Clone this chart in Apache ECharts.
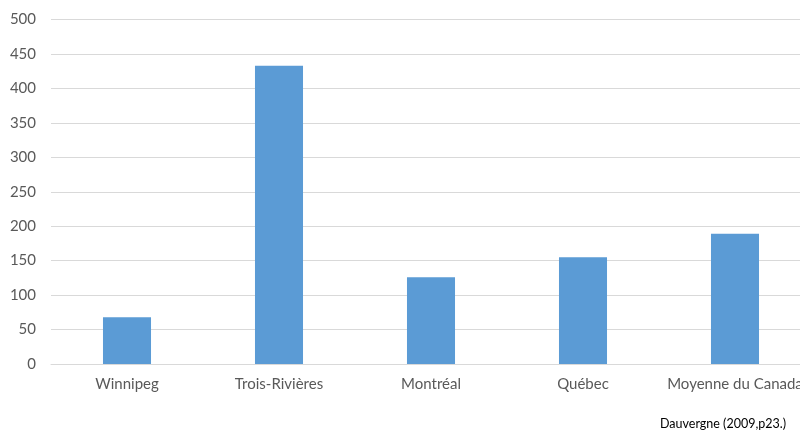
<!DOCTYPE html>
<html><head><meta charset="utf-8">
<script src="https://cdn.jsdelivr.net/npm/echarts@6/dist/echarts.min.js"></script>
<style>html,body{margin:0;padding:0;background:#fff;overflow:hidden;width:800px;height:433px}#c{width:811px;height:433px}</style>
</head><body><div id="c"></div>
<script>
const categories = ['Winnipeg', 'Trois-Rivières', 'Montréal', 'Québec', 'Moyenne du Canada'];
const values = [68, 433, 126, 155, 189];
const yTicks = {min: 0, max: 500, interval: 50};
const sourceText = 'Dauvergne (2009,p23.)';

const chart = echarts.init(document.getElementById('c'), null, {renderer: 'canvas'});
chart.setOption({
  animation: false,
  backgroundColor: '#ffffff',
  grid: {left: 51, right: 0, top: 19.5, bottom: 69, containLabel: false},
  graphic: [{
    type: 'text', left: 660, top: 417,
    style: {text: sourceText, font: '12.5px Lato, "Liberation Sans", sans-serif', fill: '#000000'}
  }],
  xAxis: {
    type: 'category', data: categories,
    axisLine: {lineStyle: {color: '#d9d9d9', width: 1}},
    axisTick: {show: false},
    axisLabel: {color: '#595959', fontSize: 15, fontFamily: 'Lato, "Liberation Sans", sans-serif', margin: 13, interval: 0}
  },
  yAxis: {
    type: 'value', min: yTicks.min, max: yTicks.max, interval: yTicks.interval,
    axisLine: {show: false}, axisTick: {show: false},
    splitLine: {lineStyle: {color: '#d9d9d9', width: 1}},
    axisLabel: {color: '#595959', fontSize: 15, fontFamily: 'Lato, "Liberation Sans", sans-serif', margin: 15}
  },
  series: [{
    type: 'bar', data: values, barWidth: '31.6%',
    itemStyle: {color: '#5b9bd5'}
  }]
});
</script></body></html>
